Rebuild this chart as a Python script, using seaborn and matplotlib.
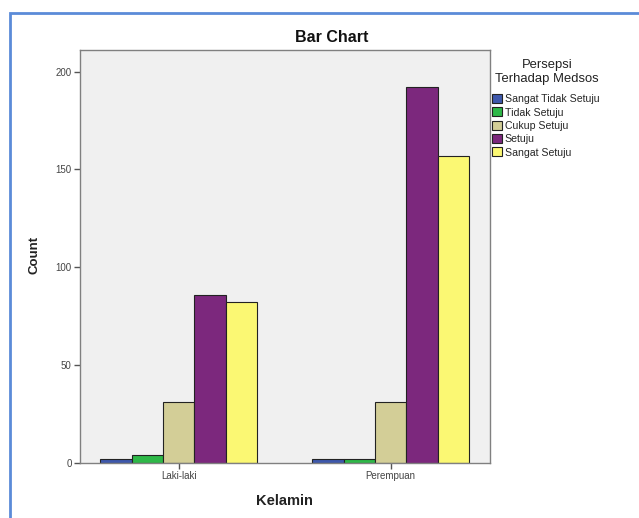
import matplotlib
matplotlib.use("Agg")
import matplotlib.pyplot as plt
import pandas as pd
import seaborn as sns
from matplotlib.patches import Rectangle

# +
kelamin = ["Laki-laki", "Perempuan"]
persepsi = ["Sangat Tidak Setuju", "Tidak Setuju", "Cukup Setuju", "Setuju", "Sangat Setuju"]
count_laki = [2, 4, 31, 86, 82]
count_perempuan = [2, 2, 31, 192, 157]
colors = ["#3E58AC", "#2EB848", "#D3CE97", "#7C287D", "#FBF873"]
# -

df = pd.DataFrame({
    "Kelamin": [k for k in kelamin for _ in persepsi],
    "Persepsi": persepsi * 2,
    "Count": count_laki + count_perempuan,
})

sns.set_style("white")
plt.rcParams["font.family"] = ["Liberation Sans", "DejaVu Sans"]

fig = plt.figure(figsize=(6.39, 5.18), dpi=100)
ax = fig.add_axes([80 / 639, 55 / 518, 410 / 639, 413 / 518])
ax.set_facecolor("#F0F0F0")

sns.barplot(
    data=df, x="Kelamin", y="Count", hue="Persepsi", hue_order=persepsi,
    palette=colors, saturation=1, width=0.74, edgecolor="#222222",
    linewidth=0.8, ax=ax, legend=True,
)

ax.set_xlim(-0.465, 1.469)
ax.set_ylim(0, 211)
ax.set_yticks([0, 50, 100, 150, 200])
for s in ax.spines.values():
    s.set_color("#808080")
    s.set_linewidth(1)
ax.tick_params(axis="both", direction="out", length=4, width=1, color="#555555",
               labelsize=7, labelcolor="#444444", left=True, bottom=True, pad=2)
ax.set_ylabel("")
ax.set_xlabel("")
fig.text(35 / 639, 1 - 255 / 518, "Count", rotation=90, ha="center", va="center",
         fontsize=9.5, fontweight="bold", color="#222222")
fig.text(284 / 639, 1 - 501 / 518, "Kelamin", ha="center", va="center",
         fontsize=10.5, fontweight="bold", color="#222222")
fig.text(332 / 639, 1 - 37 / 518, "Bar Chart", ha="center", va="center",
         fontsize=11.5, fontweight="bold", color="#111111")

handles, labels = ax.get_legend_handles_labels()
ax.get_legend().remove()
fig.text(547 / 639, 1 - 72 / 518, "Persepsi\nTerhadap Medsos", ha="center",
         va="center", fontsize=9.4, color="#222222", linespacing=1.3)
leg = fig.legend(
    handles, labels,
    loc="upper left", bbox_to_anchor=(492 / 639, 1 - 94 / 518),
    frameon=False, fontsize=7.6,
    handlelength=0.95, handleheight=0.95, handletextpad=0.25,
    labelspacing=0.3, borderaxespad=0, borderpad=0,
)

# screenshot frame
fig.patches.append(Rectangle((10 / 639, -0.1), 1.2, 1 - 13 / 518 + 0.1,
                             transform=fig.transFigure, fill=False,
                             edgecolor="#5B8BD8", linewidth=2))

fig.savefig("out.png", dpi=100)
